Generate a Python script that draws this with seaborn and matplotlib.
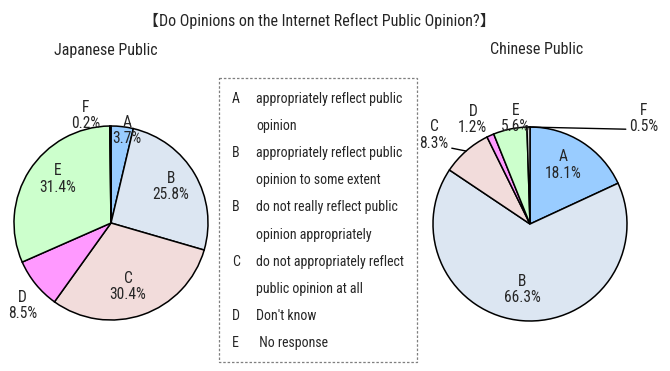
import numpy as np
import matplotlib
matplotlib.use("Agg")
import matplotlib.pyplot as plt
import seaborn as sns
from matplotlib.patches import Rectangle

TITLE = "【Do Opinions on the Internet Reflect Public Opinion?】"
PANEL_TITLES = ["Japanese Public", "Chinese Public"]
CATEGORIES = ["A", "B", "C", "D", "E", "F"]
JAPAN_VALUES = [3.7, 25.8, 30.4, 8.5, 31.4, 0.2]
CHINA_VALUES = [18.1, 66.3, 8.3, 1.2, 5.6, 0.5]
SLICE_COLORS = ["#99CCFF", "#DCE6F2", "#F2DCDB", "#FF99FF", "#CCFFCC", "#D9D9D9"]

LEGEND_KEYS = ["A", "B", "B", "C", "D", "E"]
LEGEND_TEXTS = [
    ["appropriately reflect public", "opinion"],
    ["appropriately reflect public", "opinion to some extent"],
    ["do not really reflect public", "opinion appropriately"],
    ["do not appropriately reflect", "public opinion at all"],
    ["Don't know"],
    [" No response"],
]

W, H = 670, 371
R = 97

sns.set_theme(style="white")
plt.rcParams["font.family"] = ["Roboto Condensed", "Noto Sans CJK JP", "DejaVu Sans"]

# label placement per slice: (radius factor, angle shift in degrees)
JP_LABELS = [(0.97, -3), (0.72, 1), (0.68, -4), (1.25, 4), (0.71, -7), (1.14, 13)]
CN_LABELS = [(0.70, 3), (0.68, -2.5), (1.35, 6), (1.23, 4.5), (1.10, -4), (1.60, -48)]


def draw_pie(fig, cx, cy, values, label_pos, leaders):
    pad = 1.1
    ax = fig.add_axes([(cx - R * pad) / W, (H - cy - R * pad) / H,
                       2 * R * pad / W, 2 * R * pad / H])
    colors = sns.color_palette(SLICE_COLORS)
    wedges, _ = ax.pie(values, colors=colors, startangle=90, counterclock=False,
                       wedgeprops=dict(edgecolor="black", linewidth=1.1))
    ax.set_xlim(-pad, pad)
    ax.set_ylim(-pad, pad)
    ax.set_aspect("equal")
    ax.axis("off")
    for w, cat, val, (rf, shift) in zip(wedges, CATEGORIES, values, label_pos):
        mid = np.deg2rad((w.theta1 + w.theta2) / 2 + shift)
        x, y = rf * np.cos(mid), rf * np.sin(mid)
        text = f"{cat}\n{val}%"
        if cat in leaders:
            m = np.deg2rad((w.theta1 + w.theta2) / 2)
            ax.annotate(text, xy=(np.cos(m), np.sin(m)), xytext=(x, y),
                        ha="center", va="center", fontsize=11.2, linespacing=1.1,
                        annotation_clip=False,
                        arrowprops=dict(arrowstyle="-", color="black", lw=1,
                                        relpos=leaders[cat], shrinkA=0, shrinkB=0))
        else:
            ax.text(x, y, text, ha="center", va="center", fontsize=11.2,
                    linespacing=1.1)
    return ax


fig = plt.figure(figsize=(W / 100, H / 100), dpi=100)

draw_pie(fig, 111, 223, JAPAN_VALUES, JP_LABELS, {})
draw_pie(fig, 530, 224, CHINA_VALUES, CN_LABELS, {"C": (1, 0.1), "F": (0, 0.15)})

# overlay for titles and the legend box
ov = fig.add_axes([0, 0, 1, 1], facecolor="none")
ov.set_xlim(0, W)
ov.set_ylim(H, 0)
ov.axis("off")

ov.text(319, 21, TITLE, ha="center", va="center", fontsize=11.5)
ov.text(106, 50, PANEL_TITLES[0], ha="center", va="center", fontsize=11.5)
ov.text(537, 50, PANEL_TITLES[1], ha="center", va="center", fontsize=11.5)

ov.add_patch(Rectangle((219, 78), 198, 284, fill=False, edgecolor="#7f7f7f",
                       linestyle=(0, (2, 1.5)), linewidth=0.9))

row = 0
for key, lines in zip(LEGEND_KEYS, LEGEND_TEXTS):
    ov.text(232, 99 + row * 27.1, key, ha="left", va="center", fontsize=10)
    for ln in lines:
        ov.text(256, 99 + row * 27.1, ln, ha="left", va="center", fontsize=10)
        row += 1

fig.savefig("out.png", dpi=100)
